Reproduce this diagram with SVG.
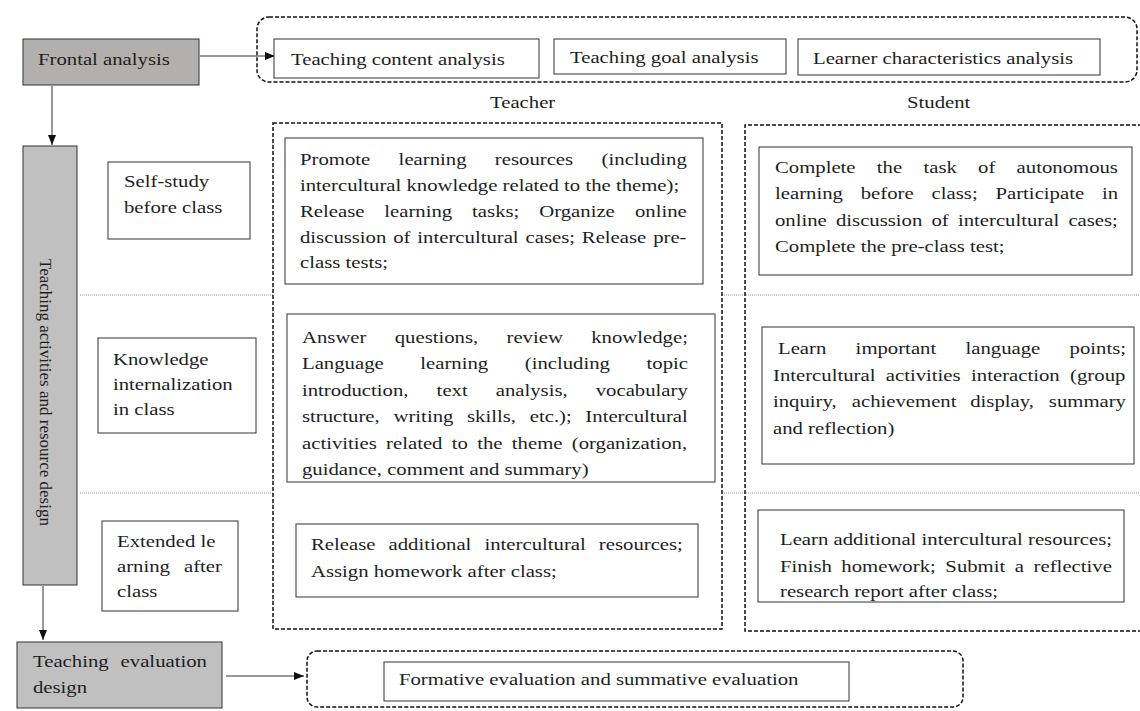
<svg xmlns="http://www.w3.org/2000/svg" width="1140" height="711" viewBox="0 0 1140 711">
<style>
.box{fill:#fff;stroke:#333;stroke-width:1}
.gray1{fill:#b3afad;stroke:#333;stroke-width:1}
.gray2{fill:#c0c0c0;stroke:#333;stroke-width:1}
.dash{fill:none;stroke:#111;stroke-width:1.5;stroke-dasharray:4 2}
.dot{stroke:#999;stroke-width:1;stroke-dasharray:1 1;fill:none}
.t{font-family:"Liberation Serif","Times New Roman",serif;font-size:16.6px;fill:#1e1e1e}
.v{font-family:"Liberation Serif","Times New Roman",serif;font-size:17px;fill:#1e1e1e}
.conn{stroke:#333;stroke-width:1;fill:none}
</style>
<defs>
<marker id="ah" markerUnits="userSpaceOnUse" markerWidth="11" markerHeight="9" refX="10" refY="4" orient="auto">
<path d="M0,0 L10,4 L0,8 z" fill="#111"/>
</marker>
</defs>
<rect width="1140" height="711" fill="#fff"/>

<g id="separators">
<line class="dot" x1="80" y1="295" x2="1140" y2="295"/>
<line class="dot" x1="80" y1="493" x2="1140" y2="493"/>
</g>

<g id="groups">
<rect class="dash" x="257" y="17" width="880" height="65" rx="12"/>
<rect class="dash" x="273" y="123" width="449" height="506" style="fill:#fff"/>
<path class="dash" d="M1142,125 L745,125 L745,631 L1142,631"/>
<rect class="dash" x="307" y="651" width="656" height="56" rx="10"/>
</g>

<g id="connectors">
<line class="conn" x1="200" y1="56" x2="275" y2="56" marker-end="url(#ah)"/>
<line class="conn" x1="52" y1="86" x2="52" y2="145" marker-end="url(#ah)"/>
<line class="conn" x1="43" y1="586" x2="43" y2="640" marker-end="url(#ah)"/>
<line class="conn" x1="226" y1="676" x2="304" y2="676" marker-end="url(#ah)"/>
</g>

<g id="frontal"><rect class="gray1" x="23" y="39" width="176" height="46"/></g>
<g id="content"><rect class="box" x="274" y="39" width="265" height="39"/></g>
<g id="goal"><rect class="box" x="554" y="39" width="232" height="35"/></g>
<g id="learner"><rect class="box" x="798" y="39" width="302" height="36"/></g>
<g id="activities"><rect class="gray2" x="23" y="146" width="54" height="439"/>
<text class="v" transform="translate(39.5,259) rotate(90)">Teaching activities and resource design</text></g>
<g id="selfstudy"><rect class="box" x="108" y="162" width="142" height="77"/></g>
<g id="knowledge"><rect class="box" x="98" y="338" width="158" height="95"/></g>
<g id="extended"><rect class="box" x="102" y="521" width="136" height="90"/></g>
<g id="t1"><rect class="box" x="285" y="138" width="418" height="146"/></g>
<g id="t2"><rect class="box" x="287" y="314" width="428" height="168"/></g>
<g id="t3"><rect class="box" x="296" y="524" width="402" height="73"/></g>
<g id="s1"><rect class="box" x="759" y="147" width="373" height="128"/></g>
<g id="s2"><rect class="box" x="762" y="327" width="372" height="137"/></g>
<g id="s3"><rect class="box" x="758" y="510" width="366" height="92"/></g>
<g id="evaluation"><rect class="gray2" x="17" y="642" width="205" height="66"/></g>
<g id="formative"><rect class="box" x="384" y="662" width="465" height="39"/></g>

<g id="labels" class="t" transform="scale(1.25,1)">
<text x="30.4" y="65">Frontal analysis</text>
<text x="232.8" y="65">Teaching content analysis</text>
<text x="456" y="63">Teaching goal analysis</text>
<text x="650.4" y="64">Learner characteristics analysis</text>
<text x="392" y="108">Teacher</text>
<text x="725.6" y="108">Student</text>

<text x="99.2" y="187">Self-study</text>
<text x="99.2" y="213">before class</text>
<text x="90.4" y="365">Knowledge</text>
<text x="90.4" y="390">internalization</text>
<text x="90.4" y="415">in class</text>
<text x="93.6" y="547">Extended le</text>
<text y="572"><tspan x="93.6">arning</tspan><tspan x="147.2">after</tspan></text>
<text x="93.6" y="597">class</text>
<text y="667"><tspan x="26.4">Teaching</tspan><tspan x="96.5">evaluation</tspan></text>
<text x="26.4" y="693">design</text>

<text y="165"><tspan x="240">Promote</tspan><tspan x="318.9">learning</tspan><tspan x="395.9">resources</tspan><tspan x="481.3">(including</tspan></text>
<text x="240" y="191">intercultural knowledge related to the theme);</text>
<text y="217"><tspan x="240">Release</tspan><tspan x="307.4">learning</tspan><tspan x="377.7">tasks;</tspan><tspan x="431.4">Organize</tspan><tspan x="508">online</tspan></text>
<text x="240" y="243" word-spacing="1.35">discussion of intercultural cases; Release pre-</text>
<text x="240" y="268">class tests;</text>

<text y="173"><tspan x="620">Complete</tspan><tspan x="701.5">the</tspan><tspan x="738.8">task</tspan><tspan x="782.5">of</tspan><tspan x="813.3">autonomous</tspan></text>
<text y="199"><tspan x="620">learning</tspan><tspan x="688.6">before</tspan><tspan x="745.3">class;</tspan><tspan x="796.4">Participate</tspan><tspan x="881.6">in</tspan></text>
<text x="620" y="226" word-spacing="3.2">online discussion of intercultural cases;</text>
<text x="620" y="252">Complete the pre-class test;</text>

<text y="343"><tspan x="241.6">Answer</tspan><tspan x="315.8">questions,</tspan><tspan x="405.2">review</tspan><tspan x="473">knowledge;</tspan></text>
<text y="369"><tspan x="241.6">Language</tspan><tspan x="336.2">learning</tspan><tspan x="419.8">(including</tspan><tspan x="517.3">topic</tspan></text>
<text y="396"><tspan x="241.6">introduction,</tspan><tspan x="349.3">text</tspan><tspan x="396.6">analysis,</tspan><tspan x="476.6">vocabulary</tspan></text>
<text y="422"><tspan x="241.6">structure,</tspan><tspan x="314.8">writing</tspan><tspan x="373.6">skills,</tspan><tspan x="423.8">etc.);</tspan><tspan x="468.3">Intercultural</tspan></text>
<text x="241.6" y="449" word-spacing="3.3">activities related to the theme (organization,</text>
<text x="241.6" y="475">guidance, comment and summary)</text>

<text y="354"><tspan x="622.4">Learn</tspan><tspan x="684.5">important</tspan><tspan x="772.4">language</tspan><tspan x="855.7">points;</tspan></text>
<text x="618.4" y="381" word-spacing="4.2">Intercultural activities interaction (group</text>
<text y="407"><tspan x="618.4">inquiry,</tspan><tspan x="681.4">achievement</tspan><tspan x="776.2">display,</tspan><tspan x="839.1">summary</tspan></text>
<text x="618.4" y="434">and reflection)</text>

<text y="550"><tspan x="248.8">Release</tspan><tspan x="310.8">additional</tspan><tspan x="387.6">intercultural</tspan><tspan x="479.1">resources;</tspan></text>
<text x="248.8" y="577">Assign homework after class;</text>

<text x="624" y="545">Learn additional intercultural resources;</text>
<text y="572"><tspan x="624">Finish</tspan><tspan x="673.1">homework;</tspan><tspan x="756.3">Submit</tspan><tspan x="811.9">a</tspan><tspan x="826.9">reflective</tspan></text>
<text x="624" y="597">research report after class;</text>

<text x="319.2" y="685">Formative evaluation and summative evaluation</text>
</g>
</svg>
